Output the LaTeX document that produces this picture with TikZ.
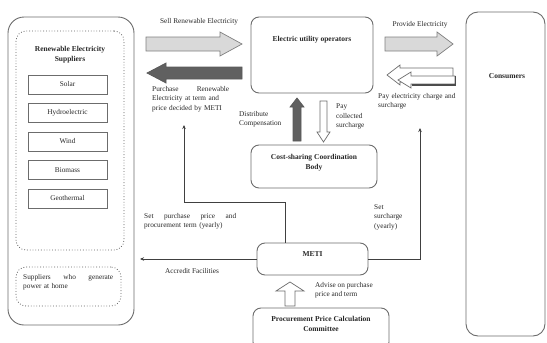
\documentclass[tikz,border=0pt]{standalone}
\usepackage{fontspec}
\setmainfont{Liberation Serif}
\usetikzlibrary{arrows.meta}
\begin{document}
\begin{tikzpicture}[x=1pt,y=-1pt,font=\fontsize{7.3}{9.5}\selectfont,text=black!85,
  box/.style={draw=gray!85!black,rounded corners=8pt,line width=0.9pt},
  dotbox/.style={draw=gray!75!black,dotted,rounded corners=10pt,line width=0.8pt},
  src/.style={draw=gray!85!black,line width=0.8pt,minimum width=79pt,minimum height=19pt},
  ttl/.style={font=\fontsize{7.5}{10}\selectfont\bfseries,align=center},
  lbl/.style={anchor=north west,inner sep=0pt,align=left},
  conn/.style={draw=black!75,line width=1pt,-{Stealth[length=4pt,width=3.5pt]}},
  lightarr/.style={draw=gray,fill=gray!30,line width=0.7pt},
  darkarr/.style={draw=gray!70!black,fill=gray!75!black,line width=0.7pt},
  whitearr/.style={draw=gray!85!black,fill=white,line width=0.7pt}]
\useasboundingbox (0,0) rectangle (547,343);
\node[box,rounded corners=16pt,minimum width=126pt,minimum height=308pt] (sup) at (71,171) {};
\node[dotbox,minimum width=108pt,minimum height=219pt] (ren) at (70,140.5) {};
\node[ttl] (rent) at (70,55) {Renewable Electricity\\Suppliers};
\node[src] (solar) at (67.5,84.5) {Solar};
\node[src] (hydro) at (67.5,113) {Hydroelectric};
\node[src] (wind) at (67.5,141.5) {Wind};
\node[src] (bio) at (67.5,170) {Biomass};
\node[src] (geo) at (67.5,198.5) {Geothermal};
\node[dotbox,minimum width=105pt,minimum height=39pt] (home) at (68.5,286.5) {};
\node[lbl,text width=90pt] (homet) at (23,274) {Suppliers\hfill who\hfill generate\\power at home};
\node[box,minimum width=122pt,minimum height=76pt] (util) at (312,55) {};
\node[ttl] (utilt) at (312,40) {Electric utility operators};
\node[box,minimum width=126pt,minimum height=43pt] (cost) at (314,166.5) {};
\node[ttl] (costt) at (314,162.5) {Cost-sharing Coordination\\Body};
\node[box,minimum width=111pt,minimum height=32pt] (meti) at (312.5,259) {};
\node[ttl] (metit) at (312.5,254) {METI};
\node[box,minimum width=136pt,minimum height=42pt] (comm) at (321,329) {};
\node[ttl] (commt) at (321,324) {Procurement Price Calculation\\Committee};
\node[box,rounded corners=12pt,minimum width=79pt,minimum height=324pt] (cons) at (505.5,174) {};
\node[ttl] (const) at (507,76) {Consumers};
\draw[lightarr] (146,37) -- (220,37) -- (220,32) -- (242,44) -- (220,56) -- (220,51) -- (146,51) -- cycle;
\draw[darkarr] (242,67) -- (166,67) -- (166,63) -- (147,73) -- (166,83) -- (166,79) -- (242,79) -- cycle;
\draw[lightarr] (385,37) -- (437,37) -- (437,32) -- (453,44) -- (437,56) -- (437,51) -- (385,51) -- cycle;
\draw[whitearr] (453,68) -- (400,68) -- (400,65) -- (387,75) -- (400,85) -- (400,82) -- (453,82) -- cycle;
\draw[whitearr] (455,76) -- (411,76) -- (411,72) -- (398,80) -- (411,88) -- (411,84) -- (455,84) -- cycle;
\draw[black!70,line width=1.2pt] (412,85) -- (455.5,85) -- (455.5,76);
\draw[darkarr] (293,141) -- (293,107) -- (290,107) -- (297,98) -- (304,107) -- (301,107) -- (301,141) -- cycle;
\draw[whitearr] (320,101) -- (320,132) -- (317,132) -- (323.5,142) -- (330,132) -- (327,132) -- (327,101) -- cycle;
\draw[whitearr] (285,306) -- (285,291) -- (276,291) -- (290,282) -- (304,291) -- (295,291) -- (295,306) -- cycle;
\node (sellt) at (199,22) {Sell Renewable Electricity};
\node[lbl,text width=77pt] (purt) at (152,86) {Purchase\hfill Renewable\\Electricity at term and\\price decided by METI};
\node (provt) at (420,25) {Provide Electricity};
\node[lbl,text width=84pt] (payt) at (378,93) {Pay electricity charge and\\surcharge};
\node[lbl] (distt) at (239,111) {Distribute\\Compensation};
\node[lbl] (payct) at (336,104) {Pay\\collected\\surcharge};
\node[lbl,text width=92pt] (setpt) at (144,213) {Set\hfill purchase\hfill price\hfill and\\procurement term (yearly)};
\node (accrt) at (192,271) {Accredit Facilities};
\node[lbl] (setst) at (374,204) {Set\\surcharge\\(yearly)};
\node[lbl] (advt) at (315,282) {Advise on purchase\\price and term};
\coordinate (setp) at (184,125);
\coordinate (sets) at (420,128);
\coordinate (accr) at (140,259);
\draw[conn] ([xshift=-27.5pt]meti.north) -- ++(0,-40) -| (setp);
\draw[conn] (meti.east) -| (sets);
\draw[conn] (meti.west) -- (accr);
\end{tikzpicture}
\end{document}
